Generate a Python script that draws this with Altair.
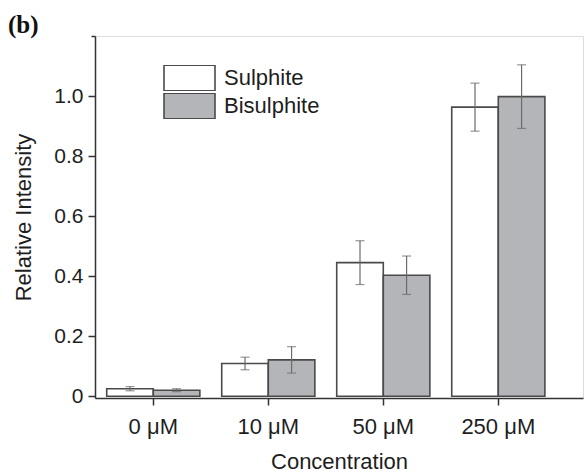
import altair as alt
import pandas as pd

# Relative intensity per concentration, mean and error for each salt
concentrations = ["0 μM", "10 μM", "50 μM", "250 μM"]
series_names = ["Sulphite", "Bisulphite"]
sulphite_mean = [0.025, 0.109, 0.445, 0.963]
sulphite_err = [0.007, 0.021, 0.073, 0.080]
bisulphite_mean = [0.020, 0.121, 0.403, 0.998]
bisulphite_err = [0.005, 0.044, 0.064, 0.106]
y_ticks = [round(0.1 * i, 1) for i in range(13)]

rows = []
for i, c in enumerate(concentrations):
    rows.append({"conc": c, "series": "Sulphite", "mean": sulphite_mean[i], "err": sulphite_err[i]})
    rows.append({"conc": c, "series": "Bisulphite", "mean": bisulphite_mean[i], "err": bisulphite_err[i]})
df = pd.DataFrame(rows)

FONT = "Liberation Sans"
INK = "#1e1e1e"
EDGE = "#4a4a4a"
WHISKER = "#6a6a6a"

x_enc = alt.X(
    "conc:N",
    sort=concentrations,
    title="Concentration",
    scale=alt.Scale(paddingInner=0.19, paddingOuter=0.2167, align=0.235),
    axis=alt.Axis(
        labelAngle=0, tickSize=7, labelPadding=11, titlePadding=14,
        labelFontSize=22, titleFontSize=22, titleFontWeight="normal",
        labelFont=FONT, titleFont=FONT, labelColor=INK, titleColor=INK,
        domainColor="#333333", tickColor="#333333", domainWidth=1.5, tickWidth=1.5,
        grid=False,
    ),
)
xo_enc = alt.XOffset("series:N", sort=series_names,
                     scale=alt.Scale(paddingInner=0, paddingOuter=0))
y_scale = alt.Scale(domain=[-0.006, 1.2], nice=False, zero=False)
y_title = "Relative Intensity"

major = "datum.value <= 1.05 && round(datum.value * 10) % 2 == 0"
y_axis = alt.Axis(
    values=y_ticks,
    labelExpr=f"({major}) ? (datum.value == 0 ? '0' : format(datum.value, '.1f')) : ''",
    tickSize={"condition": {"test": major, "value": 7}, "value": 4},
    labelPadding=5, titlePadding=18,
    labelFontSize=21, titleFontSize=22, titleFontWeight="normal",
    labelFont=FONT, titleFont=FONT, labelColor=INK, titleColor=INK,
    domainColor="#333333", tickColor="#333333", domainWidth=1.5, tickWidth=1.5,
    grid=False,
)

base = alt.Chart(df)

bars = base.mark_bar(stroke=EDGE, strokeWidth=1.6).encode(
    x=x_enc,
    xOffset=xo_enc,
    y=alt.Y("mean:Q", scale=y_scale, axis=y_axis, title=y_title),
    fill=alt.Fill(
        "series:N",
        sort=series_names,
        scale=alt.Scale(domain=series_names, range=["#ffffff", "#b4b5b8"]),
        legend=alt.Legend(
            title=None, orient="none", legendX=68, legendY=29,
            symbolType="M-1,-0.5H1V0.5H-1Z", symbolSize=2601,
            symbolStrokeColor=EDGE, symbolStrokeWidth=1.6, symbolOpacity=1,
            labelFontSize=22, labelFont=FONT, labelColor=INK, labelOffset=8,
            clipHeight=26, rowPadding=2,
        ),
    ),
)

with_limits = base.transform_calculate(lo="datum.mean - datum.err", hi="datum.mean + datum.err")

whiskers = with_limits.mark_rule(color=WHISKER, strokeWidth=1.2).encode(
    x=x_enc, xOffset=xo_enc,
    y=alt.Y("lo:Q", scale=y_scale, title=y_title),
    y2="hi:Q",
)
cap_lo = with_limits.mark_tick(color=WHISKER, thickness=1.2, size=9).encode(
    x=x_enc, xOffset=xo_enc, y=alt.Y("lo:Q", scale=y_scale, title=y_title),
)
cap_hi = with_limits.mark_tick(color=WHISKER, thickness=1.2, size=9).encode(
    x=x_enc, xOffset=xo_enc, y=alt.Y("hi:Q", scale=y_scale, title=y_title),
)

panel_label = alt.Chart(pd.DataFrame({"t": ["(b)"]})).mark_text(
    font="Liberation Serif", fontSize=25, fontWeight="bold", color="#111111",
    align="left", baseline="alphabetic",
).encode(x=alt.value(-87), y=alt.value(-3), text="t:N")

chart = alt.layer(bars, whiskers, cap_lo, cap_hi, panel_label).properties(
    width=488,
    height=362,
    autosize=alt.AutoSizeParams(type="none"),
    padding={"left": 95, "top": 36, "right": 5, "bottom": 77},
).configure_view(stroke=None).configure(background="white")

chart.save("out.html", embed_options={"renderer": "svg", "actions": False})
